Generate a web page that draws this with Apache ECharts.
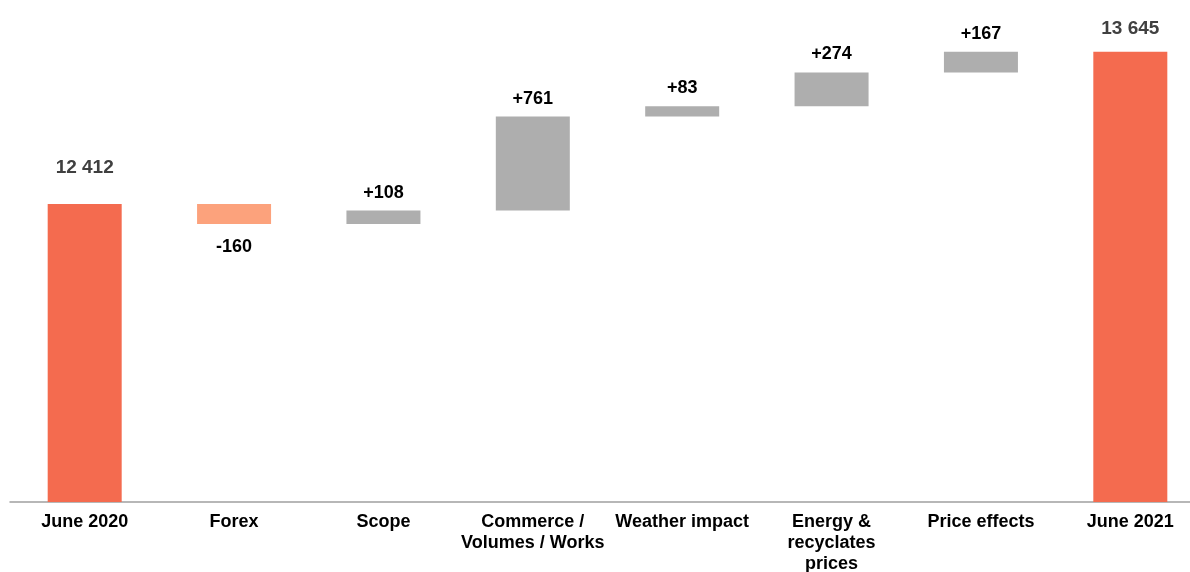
<!DOCTYPE html>
<html>
<head>
<meta charset="utf-8">
<script src="https://cdn.jsdelivr.net/npm/echarts@6/dist/echarts.min.js"></script>
<style>
  html, body { margin: 0; padding: 0; background: #fff; overflow: hidden; }
  /* plot runs a little past the right edge of the window, as in the source */
  #chart { width: 1205px; height: 572px; }
</style>
</head>
<body>
<div id="chart"></div>
<script>
var categories = ['June 2020', 'Forex', 'Scope', 'Commerce /\nVolumes / Works',
  'Weather impact', 'Energy &\nrecyclates\nprices', 'Price effects', 'June 2021'];
var startTotal = 12412;
var deltas = [-160, 108, 761, 83, 274, 167];
var endTotal = 13645;

var totalColor = '#F46B4F';
var downColor = '#FCA27C';
var upColor = '#AEAEAE';

function fmtTotal(v) {
  return String(v).replace(/\B(?=(\d{3})+(?!\d))/g, ' ');
}

// invisible base + visible piece for each step of the waterfall
var baseData = [0];
var barData = [{
  value: startTotal,
  itemStyle: { color: totalColor },
  label: { position: 'top', distance: 27, color: '#404040', fontSize: 19, formatter: fmtTotal(startTotal) }
}];
var running = startTotal;
deltas.forEach(function (d) {
  baseData.push(Math.min(running, running + d));
  barData.push({
    value: Math.abs(d),
    itemStyle: { color: d < 0 ? downColor : upColor },
    label: {
      position: d < 0 ? 'bottom' : 'top',
      distance: d < 0 ? 14 : 9,
      color: '#000',
      formatter: (d < 0 ? '-' : '+') + Math.abs(d)
    }
  });
  running += d;
});
baseData.push(0);
barData.push({
  value: endTotal,
  itemStyle: { color: totalColor },
  label: { position: 'top', distance: 14, color: '#404040', fontSize: 19, formatter: fmtTotal(endTotal) }
});

var chart = echarts.init(document.getElementById('chart'));
chart.setOption({
  animation: false,
  // the last label is cut by the bottom edge in the source, so don't let the grid shrink
  grid: { left: 10, right: 0, top: 8, bottom: 70, outerBoundsMode: 'none' },
  xAxis: {
    type: 'category',
    data: categories,
    axisLine: { lineStyle: { color: '#A0A0A0', width: 1.5 } },
    axisTick: { show: false },
    axisLabel: {
      interval: 0,
      margin: 10,
      color: '#000',
      fontFamily: 'Liberation Sans',
      fontWeight: 'bold',
      fontSize: 18,
      lineHeight: 21
    }
  },
  yAxis: {
    type: 'value',
    min: 10000,
    max: 14000,
    show: false,
    splitLine: { show: false }
  },
  series: [
    {
      type: 'bar',
      stack: 'wf',
      data: baseData,
      itemStyle: { color: 'transparent' },
      silent: true
    },
    {
      type: 'bar',
      stack: 'wf',
      data: barData,
      barWidth: 74,
      label: {
        show: true,
        fontFamily: 'Liberation Sans',
        fontWeight: 'bold',
        fontSize: 18
      }
    }
  ]
});
</script>
</body>
</html>
